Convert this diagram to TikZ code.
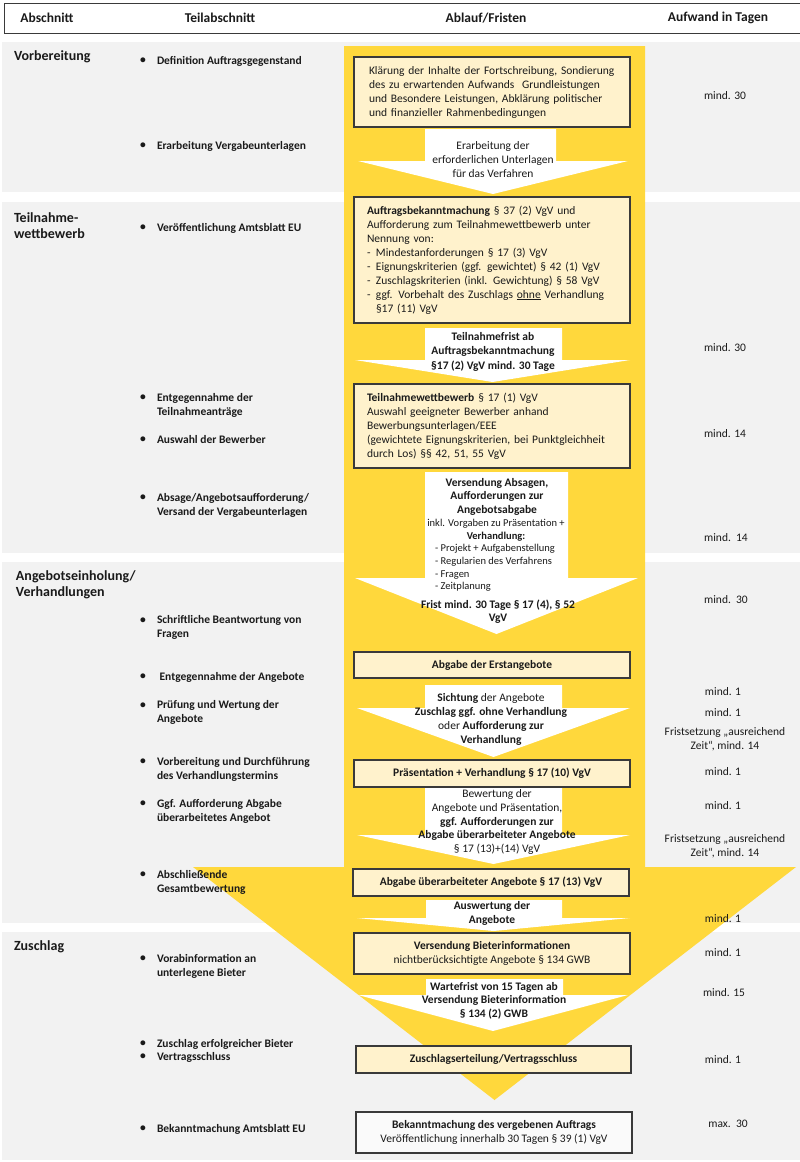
\documentclass[tikz,border=0pt]{standalone}
\usepackage{fontspec}
\setmainfont{Carlito}
\definecolor{ygold}{HTML}{FFD83C}
\definecolor{ylight}{HTML}{FFF2CC}
\definecolor{bgg}{HTML}{F2F2F2}
\definecolor{bord}{HTML}{3A3A3A}
\definecolor{txt}{HTML}{1A1A1A}
\definecolor{wfill}{HTML}{FAFAFA}
\newcommand{\tiA}[4]{\node[bul] (#1b) at (140,#2) {•};\node[sub] (#1) at (157,#3) {#4};}
\newcommand{\warr}[8]{\path[warrow] (#2,#4) -- (#3,#4) -- (#3,#5) -- (#7,#5) -- ({(#6+#7)/2},#8) -- (#6,#5) -- (#2,#5) -- cycle; \coordinate (#1) at ({(#6+#7)/2},#8);}
\begin{document}
\begin{tikzpicture}[x=1pt,y=-1pt,
 every node/.style={inner sep=0pt, outer sep=0pt, text=txt},
 hdr/.style={font=\fontsize{13.5}{16}\selectfont\bfseries},
 sect/.style={font=\fontsize{14}{16}\selectfont\bfseries, anchor=west, align=left},
 sub/.style={font=\fontsize{11.5}{14}\selectfont\bfseries, anchor=west, align=left},
 bul/.style={font=\fontsize{11.5}{14}\selectfont\bfseries, anchor=west},
 days/.style={font=\fontsize{11.5}{14}\selectfont, align=center},
 ybox/.style={draw=bord, fill=ylight, line width=1.1pt, minimum width=276pt},
 wbox/.style={draw=bord, fill=wfill, line width=1.1pt, minimum width=276pt},
 ltxt/.style={font=\fontsize{11.5}{14}\selectfont, align=left, text width=250pt, inner xsep=13pt},
 ctxt/.style={font=\fontsize{11.5}{14}\selectfont, align=center},
 atxt/.style={font=\fontsize{11.5}{13.8}\selectfont, align=center},
 warrow/.style={fill=white, draw=none},
]
\useasboundingbox (0,0) rectangle (800,1162);
\fill[white] (0,0) rectangle (800,1162);
% header
\draw[draw=bord, line width=1pt, fill=white] (4,3) rectangle (803,33);
\node[hdr] (h1) at (47,18) {Abschnitt};
\node[hdr] (h2) at (220,18) {Teilabschnitt};
\node[hdr] (h3) at (486,18) {Ablauf/Fristen};
\node[hdr] (h4) at (718,18) {Aufwand in Tagen};
% section backgrounds
\fill[bgg] (2,42) rectangle (800,192);
\fill[bgg] (2,202) rectangle (800,553);
\fill[bgg] (2,562) rectangle (800,923);
\fill[bgg] (2,932) rectangle (800,1160);
% big yellow arrow
\fill[ygold] (344,46) -- (645,46) -- (645,867) -- (796,867) -- (494.5,1100) -- (193,867) -- (344,867) -- cycle;
% white arrows
\warr{a1}{425}{556}{129}{161}{358}{628}{194}
\warr{a2}{425}{562}{328}{360}{355}{630}{382}
\warr{a3}{425}{568}{472}{578}{355}{638}{634}
\warr{a4}{425}{562}{685}{708}{357}{630}{757}
\warr{a5}{425}{562}{788}{835}{357}{630}{864}
\warr{a6}{426}{562}{900}{918}{357}{630}{931}
\warr{a7}{426}{563}{979}{995}{358}{628}{1031}
% boxes
\node[ybox, minimum height=70pt, ltxt, inner xsep=15pt, text width=246pt] (b1) at (492,92) {Klärung der Inhalte der Fortschreibung, Sondierung\\des zu erwartenden Aufwands\ \ Grundleistungen\\und Besondere Leistungen, Abklärung politischer\\und finanzieller Rahmenbedingungen};
\node[ybox, minimum height=126pt, ltxt] (b2) at (492,260) {\textbf{Auftragsbekanntmachung} § 37 (2) VgV und\\Aufforderung zum Teilnahmewettbewerb unter\\Nennung von:\\\makebox[9pt][l]{-}Mindestanforderungen § 17 (3) VgV\\\makebox[9pt][l]{-}Eignungskriterien (ggf. gewichtet) § 42 (1) VgV\\\makebox[9pt][l]{-}Zuschlagskriterien (inkl. Gewichtung) § 58 VgV\\\makebox[9pt][l]{-}ggf. Vorbehalt des Zuschlags \underline{ohne} Verhandlung\\\hspace*{9pt}§17 (11) VgV};
\node[ybox, minimum height=84pt, ltxt] (b3) at (492,426) {\textbf{Teilnahmewettbewerb} § 17 (1) VgV\\Auswahl geeigneter Bewerber anhand\\Bewerbungsunterlagen/EEE\\(gewichtete Eignungskriterien, bei Punktgleichheit\\durch Los) §§ 42, 51, 55 VgV};
\node[ybox, minimum height=26pt, ctxt] (b4) at (492,665) {\textbf{Abgabe der Erstangebote}};
\node[ybox, minimum height=27pt, ctxt] (b5) at (492,773.5) {\textbf{Präsentation + Verhandlung § 17 (10) VgV}};
\node[ybox, minimum height=27pt, ctxt] (b6) at (491,882.5) {\textbf{Abgabe überarbeiteter Angebote § 17 (13) VgV}};
\node[ybox, minimum height=41pt, ctxt] (b7) at (492,953.5) {\textbf{Versendung Bieterinformationen}\\nichtberücksichtigte Angebote § 134 GWB};
\node[ybox, minimum height=27pt, ctxt, minimum width=275pt] (b8) at (493.5,1059.5) {\textbf{Zuschlagserteilung/Vertragsschluss}};
\node[wbox, minimum height=41pt, ctxt] (b9) at (494,1132.5) {\textbf{Bekanntmachung des vergebenen Auftrags}\\Veröffentlichung innerhalb 30 Tagen § 39 (1) VgV};
% arrow texts
\node[atxt] (t1) at (493,159.5) {Erarbeitung der\\erforderlichen Unterlagen\\für das Verfahren};
\node[atxt, font=\fontsize{11.5}{14.5}\selectfont\bfseries] (t2) at (493,351.5) {Teilnahmefrist ab\\Auftragsbekanntmachung\\§17 (2) VgV mind. 30 Tage};
\node[atxt, font=\fontsize{11.5}{13.5}\selectfont\bfseries] (t3a) at (497,496.5) {Versendung Absagen,\\Aufforderungen zur\\Angebotsabgabe};
\node[atxt, font=\fontsize{10.5}{13.5}\selectfont] (t3b) at (496,530) {inkl. Vorgaben zu Präsentation +\\\textbf{Verhandlung:}};
\node[font=\fontsize{10.5}{12.7}\selectfont, align=left, anchor=west] (t3c) at (435,568) {- Projekt + Aufgabenstellung\\- Regularien des Verfahrens\\- Fragen\\- Zeitplanung};
\node[atxt, font=\fontsize{11.5}{13.5}\selectfont\bfseries] (t3d) at (498,611.5) {Frist mind. 30 Tage § 17 (4), § 52\\VgV};
\node[atxt] (t4) at (491,719.5) {\textbf{Sichtung} der Angebote\\\textbf{Zuschlag ggf. ohne Verhandlung}\\oder \textbf{Aufforderung zur}\\\textbf{Verhandlung}};
\node[atxt] (t5) at (497,822) {Bewertung der\\Angebote und Präsentation,\\\textbf{ggf. Aufforderungen zur}\\\textbf{Abgabe überarbeiteter Angebote}\\§ 17 (13)+(14) VgV};
\node[atxt, font=\fontsize{11.5}{13.5}\selectfont\bfseries] (t6) at (492,913.5) {Auswertung der\\Angebote};
\node[atxt, font=\fontsize{11.5}{13.5}\selectfont\bfseries] (t7) at (494,1000.5) {Wartefrist von 15 Tagen ab\\Versendung Bieterinformation\\§ 134 (2) GWB};
% section titles
\node[sect] (s1) at (14,57) {Vorbereitung};
\node[sect] (s2) at (14,226) {Teilnahme-\\wettbewerb};
\node[sect] (s3) at (16,585) {Angebotseinholung/\\Verhandlungen};
\node[sect] (s4) at (14,947) {Zuschlag};
% sub items
\tiA{p1}{61}{61}{Definition Auftragsgegenstand}
\tiA{p2}{146}{146}{Erarbeitung Vergabeunterlagen}
\tiA{p3}{228}{228}{Veröffentlichung Amtsblatt EU}
\tiA{p4}{398}{405}{Entgegennahme der\\Teilnahmeanträge}
\tiA{p5}{440}{440}{Auswahl der Bewerber}
\tiA{p6}{498}{505}{Absage/Angebotsaufforderung/\\Versand der Vergabeunterlagen}
\tiA{p7}{621}{627.5}{Schriftliche Beantwortung von\\Fragen}
\tiA{p8}{677}{677}{\ Entgegennahme der Angebote}
\tiA{p9}{706}{712.5}{Prüfung und Wertung der\\Angebote}
\tiA{p10}{762}{769}{Vorbereitung und Durchführung\\des Verhandlungstermins}
\tiA{p11}{804}{811}{Ggf. Aufforderung Abgabe\\überarbeitetes Angebot}
\tiA{p12}{875}{882}{Abschließende\\Gesamtbewertung}
\tiA{p13}{959}{966}{Vorabinformation an\\unterlegene Bieter}
\tiA{p14}{1044}{1044}{Zuschlag erfolgreicher Bieter}
\tiA{p15}{1057}{1057}{Vertragsschluss}
\tiA{p16}{1129}{1129}{Bekanntmachung Amtsblatt EU}
% days
\node[days] (d1) at (725,96) {mind. 30};
\node[days] (d2) at (725,348) {mind. 30};
\node[days] (d3) at (725,434) {mind. 14};
\node[days] (d4) at (726,538) {mind.\ \ 14};
\node[days] (d5) at (726,600) {mind.\ \ 30};
\node[days] (d6) at (723,692) {mind. 1};
\node[days] (d7) at (723,713) {mind. 1};
\node[days] (d8) at (725,739) {Fristsetzung „ausreichend\\Zeit“, mind. 14};
\node[days] (d9) at (723,772) {mind. 1};
\node[days] (d10) at (723,806) {mind. 1};
\node[days] (d11) at (725,846) {Fristsetzung „ausreichend\\Zeit“, mind. 14};
\node[days] (d12) at (723,919) {mind. 1};
\node[days] (d13) at (723,953) {mind. 1};
\node[days] (d14) at (724,993) {mind. 15};
\node[days] (d15) at (723,1060) {mind. 1};
\node[days] (d16) at (728,1124) {max.\ \ 30};
\end{tikzpicture}
\end{document}
